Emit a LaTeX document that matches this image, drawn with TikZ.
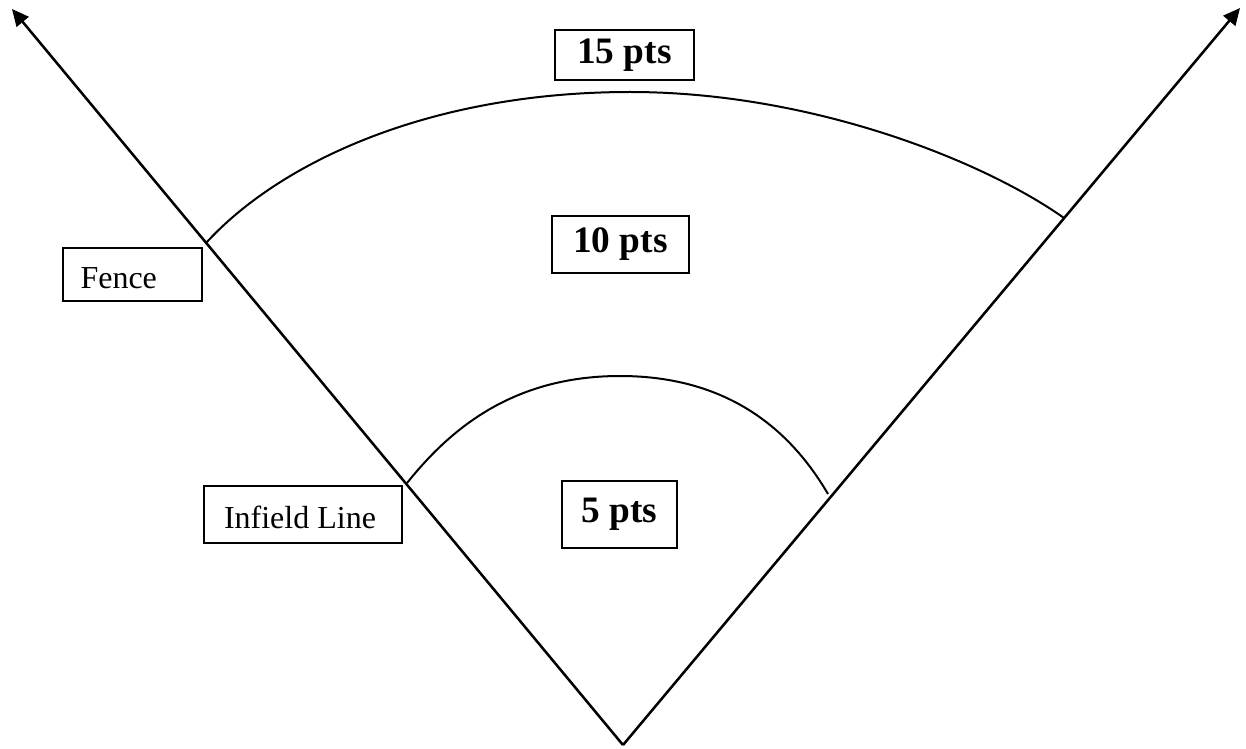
\documentclass[tikz,border=0pt]{standalone}
\usepackage{fontspec}
\setmainfont{Liberation Serif}
\usetikzlibrary{arrows.meta}
\begin{document}
\begin{tikzpicture}[x=0.375pt,y=-0.375pt,
  ray/.style={line width=0.95pt,-{Triangle[length=6.3pt,width=5.8pt]}},
  boundary/.style={line width=0.75pt},
  scorebox/.style={draw,line width=0.8pt,inner sep=0pt,font=\bfseries\fontsize{14}{16}\selectfont},
  tagbox/.style={draw,line width=0.8pt,inner sep=0pt}]
\useasboundingbox (0,0) rectangle (1246,748);

% home plate and the two foul lines
\coordinate (home) at (623,745);
\coordinate (leftend) at (12,9);
\coordinate (rightend) at (1240,8);
\draw[ray] (home) -- (leftend);
\draw[ray] (home) -- (rightend);

% outfield fence
\coordinate (fenceL) at (206,243);
\coordinate (fenceTop) at (630,92);
\coordinate (fenceR) at (1064,218);
\draw[boundary] (fenceL) .. controls (280,162) and (430,92) .. (fenceTop)
                         .. controls (810,92) and (982,160) .. (fenceR);

% infield line
\coordinate (infL) at (407,483);
\coordinate (infTop) at (620,376);
\coordinate (infR) at (828,494);
\draw[boundary] (infL) .. controls (448,432) and (510,376) .. (infTop)
                       .. controls (734,376) and (794,436) .. (infR);

% point values
\node[scorebox,minimum width=52pt,minimum height=18.75pt] (p15) at (624.5,55) {15 pts};
\node[scorebox,minimum width=51.4pt,minimum height=21.4pt] (p10) at (620.5,244.5) {10 pts};
\node[scorebox,minimum width=43.1pt,minimum height=25.1pt] (p5) at (619.5,514.5) {5 pts};

% labels
\node[tagbox,minimum width=52.1pt,minimum height=19.9pt] (fencebox) at (132.5,274.5) {};
\node[anchor=west,inner sep=0pt,font=\fontsize{12}{14}\selectfont] (fencetxt) at (80,278) {Fence};
\node[tagbox,minimum width=74.3pt,minimum height=21.4pt] (infbox) at (303,514.5) {};
\node[inner sep=0pt,font=\fontsize{12}{14}\selectfont] (inftxt) at (300,517) {Infield Line};
\end{tikzpicture}
\end{document}
